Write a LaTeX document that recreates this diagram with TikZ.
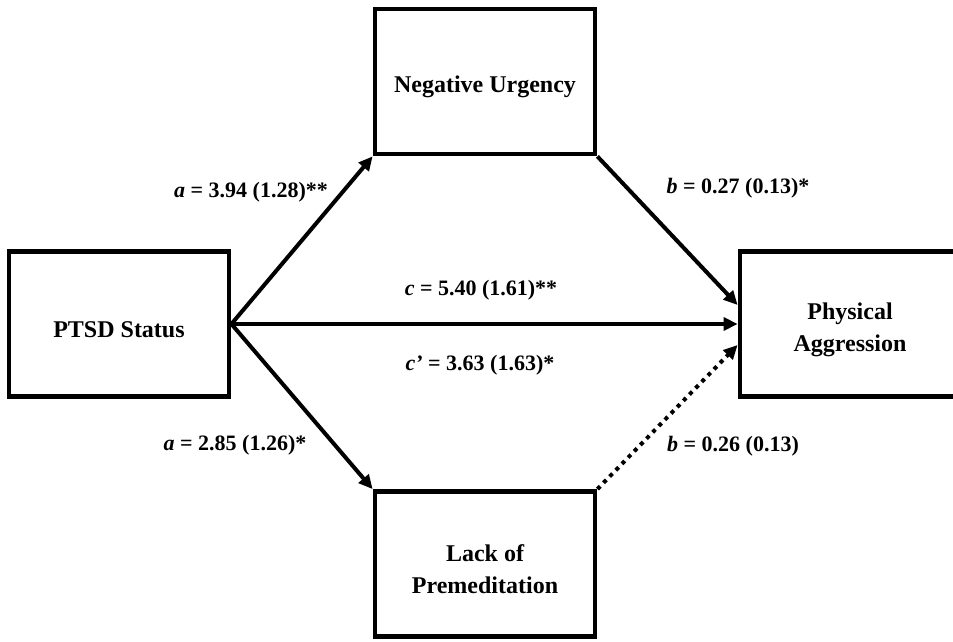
\documentclass[tikz,border=0pt]{standalone}
\usepackage{fontspec}
\setmainfont{Liberation Serif}
\usetikzlibrary{arrows.meta,calc}

%strut that pushes the box texts a little down
\newcommand{\boxstrut}{\rule{0pt}{14pt}}

\tikzset{
	varbox/.style={draw, line width=2.4pt, minimum width=110pt, minimum height=72.5pt,
		inner sep=0pt, align=center, font=\fontsize{12}{16}\selectfont\bfseries},
	effect/.style={line width=2pt, -{Triangle[length=7pt,width=6.5pt]}},
	noeffect/.style={effect, dash pattern=on 2pt off 2.4pt},
	coef/.style={font=\fontsize{11}{13}\selectfont\bfseries}
}

\begin{document}
\begin{tikzpicture}[x=0.5pt,y=0.5pt]

%%%%%%%%%%%%%%%%%%%%%%%%%%%%%%%%%%%%%%%%%%%%%%%%%%%%%%%%%%%%%%%%%%%%%%%%%%%%%%%%%%%%%%%%%%%%%%%%%%%
%																								  %
%	Parallel mediation: PTSD status -> urgency / premeditation -> physical aggression			  %
%																								  %
%%%%%%%%%%%%%%%%%%%%%%%%%%%%%%%%%%%%%%%%%%%%%%%%%%%%%%%%%%%%%%%%%%%%%%%%%%%%%%%%%%%%%%%%%%%%%%%%%%%

	%Size of the picture (the right box is cut by the border)
	\pgfmathsetmacro{\W}{953}
	\pgfmathsetmacro{\H}{642}
	\useasboundingbox (0,0) rectangle (\W,\H);
	\clip (0,0) rectangle (\W,\H);

	%Centres of the boxes
	%left and right share the height \m, top and bottom share the column \xm
	\pgfmathsetmacro{\m}{318}
	\pgfmathsetmacro{\xm}{485}

	%The four boxes
	\node[varbox] (ptsd) at (119,\m) {\boxstrut PTSD Status};
	\node[varbox] (nu) at (\xm,560.5) {\boxstrut Negative Urgency};
	\node[varbox] (lp) at (\xm,78) {\boxstrut Lack of\\Premeditation};
	\node[varbox] (pa) at (850,\m) {\boxstrut Physical\\Aggression};

	%End points of the b paths on the left side of pa
	\coordinate (paup) at ($(pa.west)+(0,19)$);
	\coordinate (padown) at ($(pa.west)+(0,-21)$);

	%a paths
	\draw[effect] (ptsd.east) -- (nu.south west);
	\draw[effect] (ptsd.east) -- (lp.north west);
	%c path
	\draw[effect] (ptsd.east) -- (pa.west);
	%b paths, the lower one not significant
	\draw[effect] (nu.south east) -- (paup);
	\draw[noeffect] (lp.north east) -- (padown);

	%Coefficients
	\node[coef] (aone) at (251,450) {\textit{a} = 3.94 (1.28)**};
	\node[coef] (atwo) at (235,197) {\textit{a} = 2.85 (1.26)*};
	\node[coef] (bone) at (738,454) {\textit{b} = 0.27 (0.13)*};
	\node[coef] (btwo) at (733,196) {\textit{b} = 0.26 (0.13)};
	\node[coef] (ctot) at (481,352) {\textit{c} = 5.40 (1.61)**};
	\node[coef] (cdir) at (480,277) {\textit{c'} = 3.63 (1.63)*};

\end{tikzpicture}
\end{document}
